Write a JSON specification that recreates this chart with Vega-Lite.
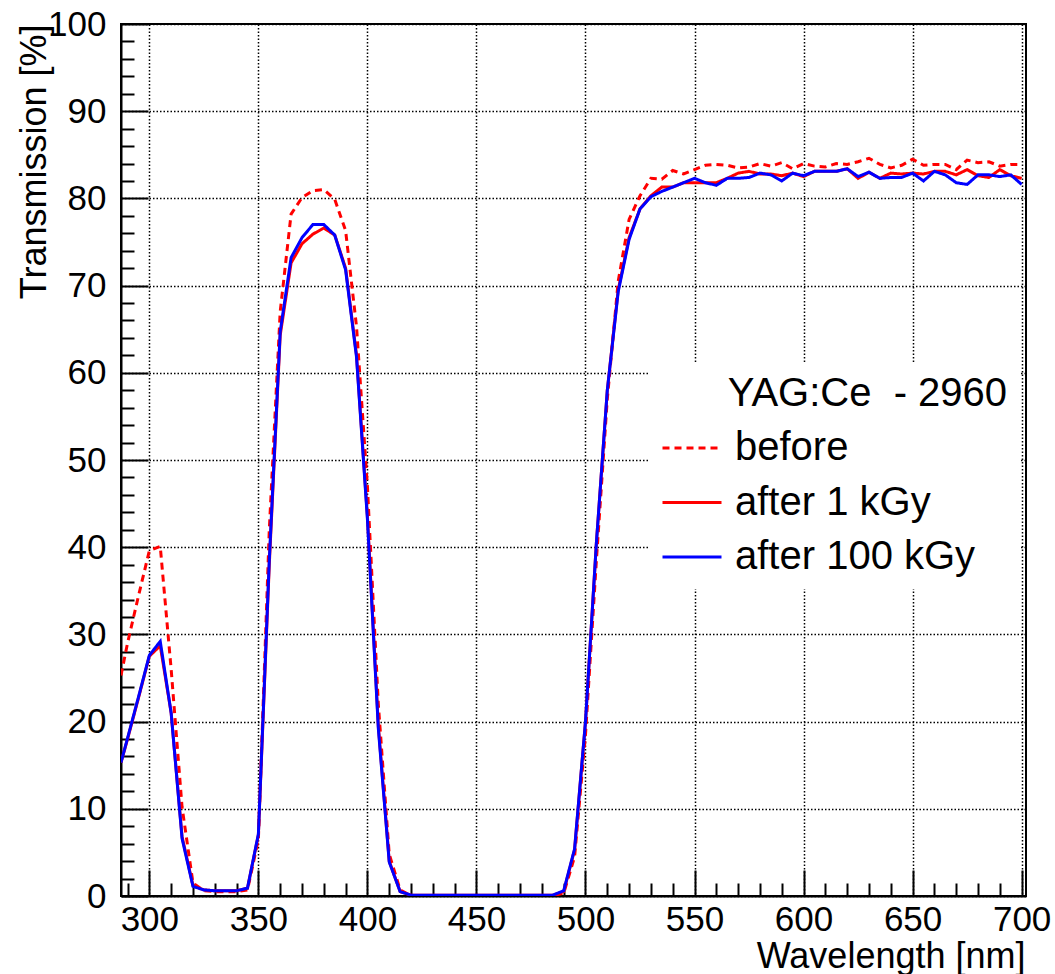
{
  "$schema": "https://vega.github.io/schema/vega-lite/v6.json",
  "width": 905,
  "height": 872,
  "autosize": {"type": "none"},
  "padding": {"left": 121, "top": 24, "right": 29, "bottom": 78},
  "background": "white",
  "config": {
    "font": "Liberation Sans",
    "view": {"stroke": "black", "strokeWidth": 2},
    "axis": {
      "domainColor": "black",
      "domainWidth": 2,
      "tickColor": "black",
      "tickWidth": 2,
      "gridColor": "black",
      "gridDash": [1.5, 2],
      "gridWidth": 1.5,
      "labelColor": "black",
      "labelFontSize": 35,
      "labelFlush": false,
      "labelOverlap": false,
      "labelBound": false,
      "titleColor": "black",
      "titleFontSize": 36,
      "titleFontWeight": "normal"
    }
  },
  "data": {
    "values": [
      {"wl": 287, "before": 25.3, "after 1 kGy": 15.3, "after 100 kGy": 15.3},
      {"wl": 290, "before": 29.0, "after 1 kGy": 18.0, "after 100 kGy": 18.1},
      {"wl": 295, "before": 34.4, "after 1 kGy": 22.7, "after 100 kGy": 22.8},
      {"wl": 300, "before": 39.6, "after 1 kGy": 27.5, "after 100 kGy": 27.6},
      {"wl": 305, "before": 40.1, "after 1 kGy": 28.7, "after 100 kGy": 29.2},
      {"wl": 310, "before": 26.0, "after 1 kGy": 21.0, "after 100 kGy": 21.0},
      {"wl": 315, "before": 10.2, "after 1 kGy": 6.8, "after 100 kGy": 6.6},
      {"wl": 320, "before": 1.5, "after 1 kGy": 1.2, "after 100 kGy": 1.1},
      {"wl": 325, "before": 0.6, "after 1 kGy": 0.7, "after 100 kGy": 0.7},
      {"wl": 330, "before": 0.5, "after 1 kGy": 0.6, "after 100 kGy": 0.6},
      {"wl": 335, "before": 0.5, "after 1 kGy": 0.6, "after 100 kGy": 0.6},
      {"wl": 340, "before": 0.5, "after 1 kGy": 0.6, "after 100 kGy": 0.6},
      {"wl": 345, "before": 0.7, "after 1 kGy": 0.9, "after 100 kGy": 0.9},
      {"wl": 350, "before": 6.5, "after 1 kGy": 7.0, "after 100 kGy": 7.1},
      {"wl": 355, "before": 42.0, "after 1 kGy": 38.0, "after 100 kGy": 38.5},
      {"wl": 360, "before": 67.0, "after 1 kGy": 64.3, "after 100 kGy": 64.7},
      {"wl": 365, "before": 78.2, "after 1 kGy": 72.6, "after 100 kGy": 73.2},
      {"wl": 370, "before": 80.1, "after 1 kGy": 74.8, "after 100 kGy": 75.5},
      {"wl": 375, "before": 80.9, "after 1 kGy": 75.9, "after 100 kGy": 77.0},
      {"wl": 380, "before": 81.0, "after 1 kGy": 76.6, "after 100 kGy": 77.0},
      {"wl": 385, "before": 79.9, "after 1 kGy": 75.8, "after 100 kGy": 75.8},
      {"wl": 390, "before": 76.3, "after 1 kGy": 72.0, "after 100 kGy": 71.8},
      {"wl": 395, "before": 65.3, "after 1 kGy": 62.0, "after 100 kGy": 61.8},
      {"wl": 400, "before": 47.0, "after 1 kGy": 43.5, "after 100 kGy": 43.2},
      {"wl": 405, "before": 22.0, "after 1 kGy": 19.5, "after 100 kGy": 19.2},
      {"wl": 410, "before": 4.8, "after 1 kGy": 4.0, "after 100 kGy": 3.9},
      {"wl": 415, "before": 0.7, "after 1 kGy": 0.5, "after 100 kGy": 0.5},
      {"wl": 420, "before": 0.05, "after 1 kGy": 0.1, "after 100 kGy": 0.1},
      {"wl": 425, "before": 0.05, "after 1 kGy": 0.1, "after 100 kGy": 0.1},
      {"wl": 430, "before": 0.05, "after 1 kGy": 0.1, "after 100 kGy": 0.1},
      {"wl": 435, "before": 0.05, "after 1 kGy": 0.1, "after 100 kGy": 0.1},
      {"wl": 440, "before": 0.05, "after 1 kGy": 0.1, "after 100 kGy": 0.1},
      {"wl": 445, "before": 0.05, "after 1 kGy": 0.1, "after 100 kGy": 0.1},
      {"wl": 450, "before": 0.05, "after 1 kGy": 0.1, "after 100 kGy": 0.1},
      {"wl": 455, "before": 0.05, "after 1 kGy": 0.1, "after 100 kGy": 0.1},
      {"wl": 460, "before": 0.05, "after 1 kGy": 0.1, "after 100 kGy": 0.1},
      {"wl": 465, "before": 0.05, "after 1 kGy": 0.1, "after 100 kGy": 0.1},
      {"wl": 470, "before": 0.05, "after 1 kGy": 0.1, "after 100 kGy": 0.1},
      {"wl": 475, "before": 0.05, "after 1 kGy": 0.1, "after 100 kGy": 0.1},
      {"wl": 480, "before": 0.05, "after 1 kGy": 0.1, "after 100 kGy": 0.1},
      {"wl": 485, "before": 0.05, "after 1 kGy": 0.1, "after 100 kGy": 0.1},
      {"wl": 490, "before": 0.3, "after 1 kGy": 0.5, "after 100 kGy": 0.6},
      {"wl": 495, "before": 4.5, "after 1 kGy": 5.3, "after 100 kGy": 5.4},
      {"wl": 500, "before": 18.5, "after 1 kGy": 20.0, "after 100 kGy": 20.0},
      {"wl": 505, "before": 38.5, "after 1 kGy": 40.5, "after 100 kGy": 40.5},
      {"wl": 510, "before": 57.0, "after 1 kGy": 58.0, "after 100 kGy": 58.0},
      {"wl": 515, "before": 70.5, "after 1 kGy": 69.5, "after 100 kGy": 69.3},
      {"wl": 520, "before": 77.6, "after 1 kGy": 75.5, "after 100 kGy": 75.3},
      {"wl": 525, "before": 80.3, "after 1 kGy": 78.8, "after 100 kGy": 78.8},
      {"wl": 530, "before": 82.3, "after 1 kGy": 80.3, "after 100 kGy": 80.2},
      {"wl": 535, "before": 82.2, "after 1 kGy": 81.3, "after 100 kGy": 80.8},
      {"wl": 540, "before": 83.2, "after 1 kGy": 81.3, "after 100 kGy": 81.3},
      {"wl": 545, "before": 82.8, "after 1 kGy": 81.8, "after 100 kGy": 81.8},
      {"wl": 550, "before": 83.3, "after 1 kGy": 81.8, "after 100 kGy": 82.3},
      {"wl": 555, "before": 83.8, "after 1 kGy": 81.8, "after 100 kGy": 81.8},
      {"wl": 560, "before": 83.9, "after 1 kGy": 81.8, "after 100 kGy": 81.5},
      {"wl": 565, "before": 83.8, "after 1 kGy": 82.3, "after 100 kGy": 82.3},
      {"wl": 570, "before": 83.5, "after 1 kGy": 82.9, "after 100 kGy": 82.3},
      {"wl": 575, "before": 83.6, "after 1 kGy": 83.1, "after 100 kGy": 82.4},
      {"wl": 580, "before": 84.0, "after 1 kGy": 82.8, "after 100 kGy": 82.9},
      {"wl": 585, "before": 83.7, "after 1 kGy": 82.8, "after 100 kGy": 82.7},
      {"wl": 590, "before": 84.1, "after 1 kGy": 82.6, "after 100 kGy": 82.0},
      {"wl": 595, "before": 83.4, "after 1 kGy": 82.9, "after 100 kGy": 82.9},
      {"wl": 600, "before": 84.0, "after 1 kGy": 82.5, "after 100 kGy": 82.6},
      {"wl": 605, "before": 83.7, "after 1 kGy": 83.1, "after 100 kGy": 83.1},
      {"wl": 610, "before": 83.6, "after 1 kGy": 83.1, "after 100 kGy": 83.1},
      {"wl": 615, "before": 84.0, "after 1 kGy": 83.1, "after 100 kGy": 83.1},
      {"wl": 620, "before": 83.9, "after 1 kGy": 83.4, "after 100 kGy": 83.4},
      {"wl": 625, "before": 84.2, "after 1 kGy": 82.3, "after 100 kGy": 82.5},
      {"wl": 630, "before": 84.6, "after 1 kGy": 83.0, "after 100 kGy": 83.0},
      {"wl": 635, "before": 83.9, "after 1 kGy": 82.3, "after 100 kGy": 82.3},
      {"wl": 640, "before": 83.5, "after 1 kGy": 82.9, "after 100 kGy": 82.4},
      {"wl": 645, "before": 83.8, "after 1 kGy": 82.8, "after 100 kGy": 82.4},
      {"wl": 650, "before": 84.5, "after 1 kGy": 82.9, "after 100 kGy": 82.9},
      {"wl": 655, "before": 83.8, "after 1 kGy": 82.8, "after 100 kGy": 82.0},
      {"wl": 660, "before": 83.9, "after 1 kGy": 83.1, "after 100 kGy": 83.1},
      {"wl": 665, "before": 83.9, "after 1 kGy": 83.1, "after 100 kGy": 82.7},
      {"wl": 670, "before": 83.3, "after 1 kGy": 82.7, "after 100 kGy": 81.8},
      {"wl": 675, "before": 84.4, "after 1 kGy": 83.3, "after 100 kGy": 81.6},
      {"wl": 680, "before": 84.1, "after 1 kGy": 82.6, "after 100 kGy": 82.7},
      {"wl": 685, "before": 84.2, "after 1 kGy": 82.4, "after 100 kGy": 82.7},
      {"wl": 690, "before": 83.7, "after 1 kGy": 83.3, "after 100 kGy": 82.5},
      {"wl": 695, "before": 83.9, "after 1 kGy": 82.6, "after 100 kGy": 82.7},
      {"wl": 700, "before": 83.9, "after 1 kGy": 82.3, "after 100 kGy": 81.6}
    ]
  },
  "transform": [
    {"fold": ["before", "after 1 kGy", "after 100 kGy"], "as": ["series", "T"]}
  ],
  "mark": {"type": "line", "strokeWidth": 3, "clip": true},
  "encoding": {
    "x": {
      "field": "wl",
      "type": "quantitative",
      "scale": {"domain": [287, 702], "nice": false, "zero": false},
      "axis": {
        "title": "Wavelength [nm]",
        "values": [290, 300, 310, 320, 330, 340, 350, 360, 370, 380, 390, 400, 410, 420, 430, 440, 450, 460, 470, 480, 490, 500, 510, 520, 530, 540, 550, 560, 570, 580, 590, 600, 610, 620, 630, 640, 650, 660, 670, 680, 690, 700],
        "labelExpr": "datum.value % 50 === 0 ? datum.label : ''",
        "tickSize": {"condition": {"test": "datum.value % 50 === 0", "value": -26}, "value": -13},
        "gridOpacity": {"condition": {"test": "datum.value % 50 === 0", "value": 1}, "value": 0},
        "grid": true,
        "labelPadding": 32,
        "titleAnchor": "end",
        "titleAlign": "right",
        "titleBaseline": "alphabetic",
        "titleX": 904,
        "titleY": 71
      }
    },
    "y": {
      "field": "T",
      "type": "quantitative",
      "scale": {"domain": [0, 100], "nice": false},
      "axis": {
        "title": "Transmission [%]",
        "values": [0, 2, 4, 6, 8, 10, 12, 14, 16, 18, 20, 22, 24, 26, 28, 30, 32, 34, 36, 38, 40, 42, 44, 46, 48, 50, 52, 54, 56, 58, 60, 62, 64, 66, 68, 70, 72, 74, 76, 78, 80, 82, 84, 86, 88, 90, 92, 94, 96, 98, 100],
        "labelExpr": "datum.value % 10 === 0 ? datum.label : ''",
        "tickSize": {"condition": {"test": "datum.value % 10 === 0", "value": -27}, "value": -13},
        "gridOpacity": {"condition": {"test": "datum.value % 10 === 0", "value": 1}, "value": 0},
        "grid": true,
        "labelPadding": 42,
        "titleAngle": -90,
        "titleAnchor": "end",
        "titleAlign": "right",
        "titleBaseline": "top",
        "titleX": -104,
        "titleY": 0
      }
    },
    "color": {
      "field": "series",
      "type": "nominal",
      "scale": {"domain": ["before", "after 1 kGy", "after 100 kGy"], "range": ["#ff0000", "#ff0000", "#0000ff"]},
      "legend": {
        "title": "\u200b\u00a0\u00a0\u00a0\u00a0\u00a0\u00a0YAG:Ce\u00a0\u00a0- 2960",
        "orient": "none",
        "legendX": 528,
        "legendY": 338,
        "symbolType": "stroke",
        "symbolSize": 3481,
        "symbolStrokeWidth": 3,
        "labelFontSize": 40,
        "labelColor": "black",
        "labelOffset": 12,
        "labelLimit": 400,
        "titleFontSize": 40,
        "titleFontWeight": "normal",
        "titleColor": "black",
        "titleLimit": 600,
        "titlePadding": 3,
        "rowPadding": 3.5,
        "fillColor": "white",
        "padding": 12
      }
    },
    "strokeDash": {
      "field": "series",
      "type": "nominal",
      "scale": {"domain": ["before", "after 1 kGy", "after 100 kGy"], "range": [[7, 5], [1, 0], [1, 0]]},
      "legend": {
        "title": "\u200b\u00a0\u00a0\u00a0\u00a0\u00a0\u00a0YAG:Ce\u00a0\u00a0- 2960",
        "orient": "none",
        "legendX": 528,
        "legendY": 338,
        "symbolType": "stroke",
        "symbolSize": 3481,
        "symbolStrokeWidth": 3,
        "labelFontSize": 40,
        "labelColor": "black",
        "labelOffset": 12,
        "labelLimit": 400,
        "titleFontSize": 40,
        "titleFontWeight": "normal",
        "titleColor": "black",
        "titleLimit": 600,
        "titlePadding": 3,
        "rowPadding": 3.5,
        "fillColor": "white",
        "padding": 12
      }
    }
  }
}
